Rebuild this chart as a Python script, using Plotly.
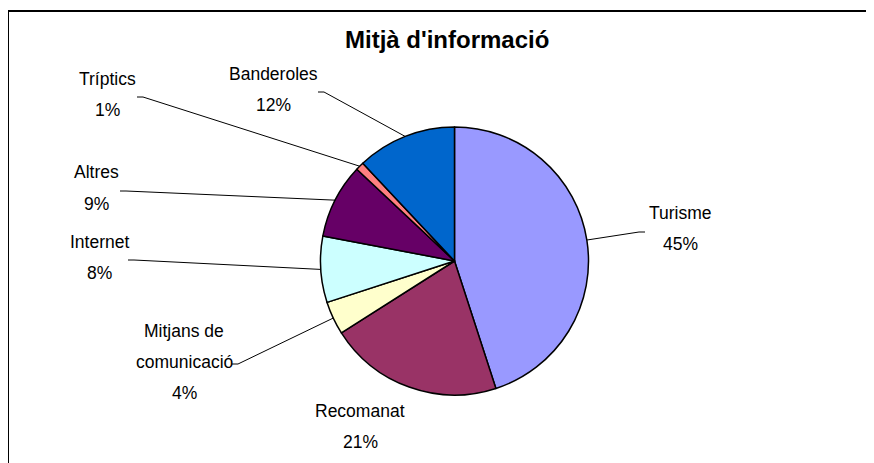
import math
import plotly.graph_objects as go

# ---- data ----
categories = ["Turisme", "Recomanat", "Mitjans de comunicació", "Internet",
              "Altres", "Tríptics", "Banderoles"]
values = [45, 21, 4, 8, 9, 1, 12]
title_text = "Mitjà d'informació"

# ---- style / layout ----
colors = ["#9999FF", "#993366", "#FFFFCC", "#CCFFFF", "#660066", "#FF8080", "#0066CC"]
W, H = 874, 463
PAGE_OFF = 8                         # default body margin of the html page
CX, CY, R = 454.5, 261, 134          # pie centre / radius in screen pixels
LABEL_FONT = "Liberation Sans, Arial"
LABEL_SIZE = 17.5
LINE_GAP = 31
# per-label layout: text centre x, first line centre y, leader start (or None), wrapped lines
label_layout = {
    "Turisme": (680, 212.5, (645, 232), ["Turisme"]),
    "Recomanat": (360, 411, None, ["Recomanat"]),
    "Mitjans de comunicació": (184, 331, (232, 364), ["Mitjans de", "comunicació"]),
    "Internet": (99, 241.5, (128, 260), ["Internet"]),
    "Altres": (96.5, 172.5, (120, 191), ["Altres"]),
    "Tríptics": (107, 79, (137, 97), ["Tríptics"]),
    "Banderoles": (273, 74, (318, 92), ["Banderoles"]),
}


def px(x):
    return (x - PAGE_OFF) / W


def py(y):
    return 1 - (y - PAGE_OFF) / H


fig = go.Figure(go.Pie(
    labels=categories, values=values, sort=False, direction="clockwise",
    rotation=0, textinfo="none", hoverinfo="label+percent",
    marker=dict(colors=colors, line=dict(color="black", width=1.5)),
    domain=dict(x=[px(CX - R), px(CX + R)], y=[py(CY + R), py(CY - R)]),
    showlegend=False,
))

total = sum(values)
annotations = []
shapes = []
cum = 0
for cat, v in zip(categories, values):
    mid = (cum + v / 2) / total
    cum += v
    theta = 2 * math.pi * mid
    ex, ey = CX + R * math.sin(theta), CY - R * math.cos(theta)
    tx, ty, start, lines = label_layout[cat]
    lines = lines + [f"{v / total * 100:.0f}%"]
    for i, ln in enumerate(lines):
        annotations.append(dict(
            x=px(tx), y=py(ty + i * LINE_GAP), xref="paper", yref="paper",
            text=ln, showarrow=False, xanchor="center", yanchor="middle",
            font=dict(family=LABEL_FONT, size=LABEL_SIZE, color="black"),
        ))
    if start is not None:
        sx, sy = start
        stub = 6 if ex > sx else -6
        shapes.append(dict(
            type="path", xref="paper", yref="paper",
            path=f"M {px(sx)} {py(sy)} L {px(sx + stub)} {py(sy)} L {px(ex)} {py(ey)}",
            line=dict(color="black", width=1),
        ))

# title
annotations.append(dict(
    x=px(447), y=py(40), xref="paper", yref="paper", text=f"<b>{title_text}</b>",
    showarrow=False, xanchor="center", yanchor="middle",
    font=dict(family="Liberation Sans, Arial", size=24, color="black"),
))

# chart frame (open to the right / bottom edge)
shapes.append(dict(
    type="rect", xref="paper", yref="paper",
    x0=px(8), y0=py(11), x1=px(W + 20), y1=py(H + 20),
    line=dict(color="black", width=2), fillcolor="rgba(0,0,0,0)",
))

fig.update_layout(
    width=W, height=H, margin=dict(l=0, r=0, t=0, b=0),
    paper_bgcolor="white", plot_bgcolor="white",
    annotations=annotations, shapes=shapes,
)
fig.write_html("out.html")
